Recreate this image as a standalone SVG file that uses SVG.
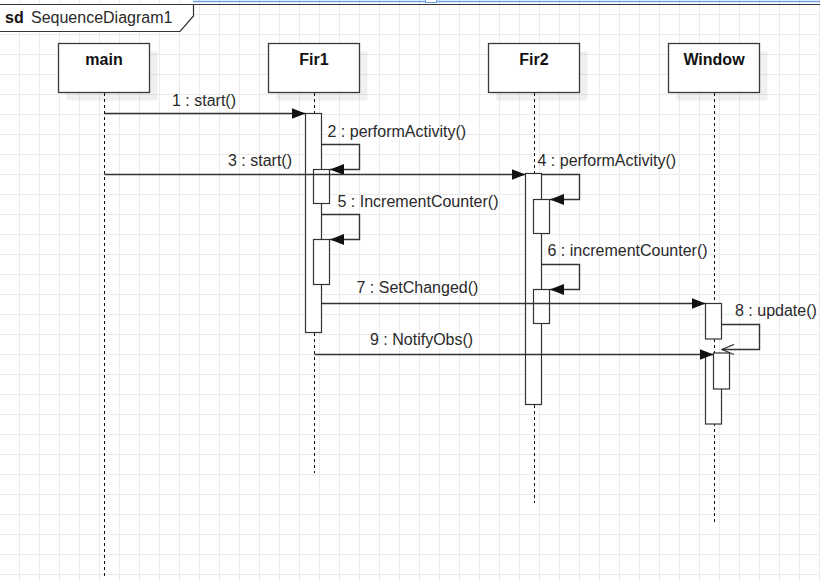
<svg xmlns="http://www.w3.org/2000/svg" width="820" height="581" viewBox="0 0 820 581">
  <defs>
    <pattern id="grid" patternUnits="userSpaceOnUse" width="20" height="20">
      <path d="M19.5,0 V20 M0,14.5 H20" fill="none" stroke="#ebebeb" stroke-width="1"/>
    </pattern>
    <marker id="filled" viewBox="0 0 14 11" refX="14" refY="5.5" markerWidth="14" markerHeight="11" markerUnits="userSpaceOnUse" orient="auto">
      <path d="M0,0 L14,5.5 L0,11 Z" fill="#111"/>
    </marker>
    <marker id="open" viewBox="0 0 14 12" refX="13" refY="6" markerWidth="14" markerHeight="12" markerUnits="userSpaceOnUse" orient="auto">
      <path d="M1,1 L13,6 L1,11" fill="none" stroke="#333" stroke-width="1.3"/>
    </marker>
  </defs>
  <style>
    .head { fill: #fff; stroke: #3a3a3a; stroke-width: 1.3; }
    .shadow { fill: #000; fill-opacity: 0.06; }
    .life { stroke: #111; stroke-width: 1; stroke-dasharray: 3 3; fill: none; }
    .act { fill: #fff; stroke: #333; stroke-width: 1.2; }
    .msg { fill: none; stroke: #333; stroke-width: 1.4; }
    .name { font-family: "Liberation Sans", Arial, sans-serif; font-size: 16px; font-weight: bold; fill: #111; text-anchor: middle; }
    .lbl { font-family: "Liberation Sans", Arial, sans-serif; font-size: 16px; fill: #2a2a2a; }
  </style>

  <!-- canvas + grid -->
  <rect width="820" height="581" fill="#fff"/>
  <rect width="820" height="581" fill="url(#grid)"/>

  <!-- sequence frame and its title tab -->
  <g id="frame">
    <line x1="193" y1="1.5" x2="820" y2="1.5" stroke="#6fa0ec" stroke-width="1.5"/>
    <rect x="425.5" y="-1" width="11" height="3.5" fill="#fff" stroke="#6fa0ec" stroke-width="1"/>
    <line x1="0" y1="4.5" x2="820" y2="4.5" stroke="#333" stroke-width="1.2"/>
    <path d="M0,4.5 H193.5 V16 L180,31.5 H0" fill="#fff" stroke="#333" stroke-width="1.2"/>
    <text x="5" y="22.5" font-family="Liberation Sans, Arial, sans-serif" font-size="16" font-weight="bold" fill="#111">sd</text>
    <text x="31" y="22.5" class="lbl">SequenceDiagram1</text>
  </g>

  <!-- lifeline: main -->
  <g id="main">
    <line class="life" x1="104.5" y1="93" x2="104.5" y2="578"/>
    <rect class="shadow" x="66.5" y="51.5" width="91" height="49"/>
    <rect class="head" x="58.5" y="43.5" width="91" height="49"/>
    <text class="name" x="104" y="65">main</text>
  </g>

  <!-- lifeline: Fir1 -->
  <g id="fir1">
    <line class="life" x1="314.5" y1="93" x2="314.5" y2="473"/>
    <rect class="shadow" x="276.5" y="51.5" width="91" height="49"/>
    <rect class="head" x="268.5" y="43.5" width="91" height="49"/>
    <text class="name" x="314" y="65">Fir1</text>
    <rect class="act" x="305.5" y="113.5" width="16" height="219"/>
    <rect class="act" x="313.5" y="169.5" width="16" height="34"/>
    <rect class="act" x="313.5" y="239.5" width="16" height="45"/>
  </g>

  <!-- lifeline: Fir2 -->
  <g id="fir2">
    <line class="life" x1="534.5" y1="93" x2="534.5" y2="503"/>
    <rect class="shadow" x="496.5" y="51.5" width="91" height="49"/>
    <rect class="head" x="488.5" y="43.5" width="91" height="49"/>
    <text class="name" x="534" y="65">Fir2</text>
    <rect class="act" x="525.5" y="173.5" width="16" height="231"/>
    <rect class="act" x="533.5" y="199.5" width="16" height="34"/>
    <rect class="act" x="533.5" y="289.5" width="16" height="34"/>
  </g>

  <!-- lifeline: Window -->
  <g id="window">
    <line class="life" x1="714.5" y1="93" x2="714.5" y2="524"/>
    <rect class="shadow" x="676.5" y="51.5" width="91" height="49"/>
    <rect class="head" x="668.5" y="43.5" width="91" height="49"/>
    <text class="name" x="714" y="65">Window</text>
    <rect class="act" x="705.5" y="303.5" width="16" height="35.5"/>
    <rect class="act" x="705.5" y="354.5" width="16" height="69.5"/>
    <rect class="act" x="713.5" y="353" width="16" height="36"/>
  </g>

  <!-- messages -->
  <g id="messages">
    <path class="msg" d="M104.5,113.5 H305.5" marker-end="url(#filled)"/>
    <path class="msg" d="M321.5,144.5 H359.5 V169.5 H330" marker-end="url(#filled)"/>
    <path class="msg" d="M104.5,174.5 H525.5" marker-end="url(#filled)"/>
    <path class="msg" d="M541.5,174.5 H579.5 V199.5 H550" marker-end="url(#filled)"/>
    <path class="msg" d="M321.5,214.5 H359.5 V239.5 H330" marker-end="url(#filled)"/>
    <path class="msg" d="M541.5,264.5 H579.5 V289.5 H550" marker-end="url(#filled)"/>
    <path class="msg" d="M321.5,303.5 H705.5" marker-end="url(#filled)"/>
    <path class="msg" d="M721.5,324.5 H759.5 V349.5 H722" marker-end="url(#open)"/>
    <path class="msg" d="M314.5,354.5 H713.5" marker-end="url(#filled)"/>

    <text class="lbl" x="172" y="106">1 : start()</text>
    <text class="lbl" x="327.5" y="136.5">2 : performActivity()</text>
    <text class="lbl" x="228" y="165.5">3 : start()</text>
    <text class="lbl" x="537.5" y="166">4 : performActivity()</text>
    <text class="lbl" x="337.5" y="206.5">5 : IncrementCounter()</text>
    <text class="lbl" x="547.5" y="256">6 : incrementCounter()</text>
    <text class="lbl" x="356.5" y="293">7 : SetChanged()</text>
    <text class="lbl" x="735" y="316">8 : update()</text>
    <text class="lbl" x="370" y="345">9 : NotifyObs()</text>
  </g>
</svg>
